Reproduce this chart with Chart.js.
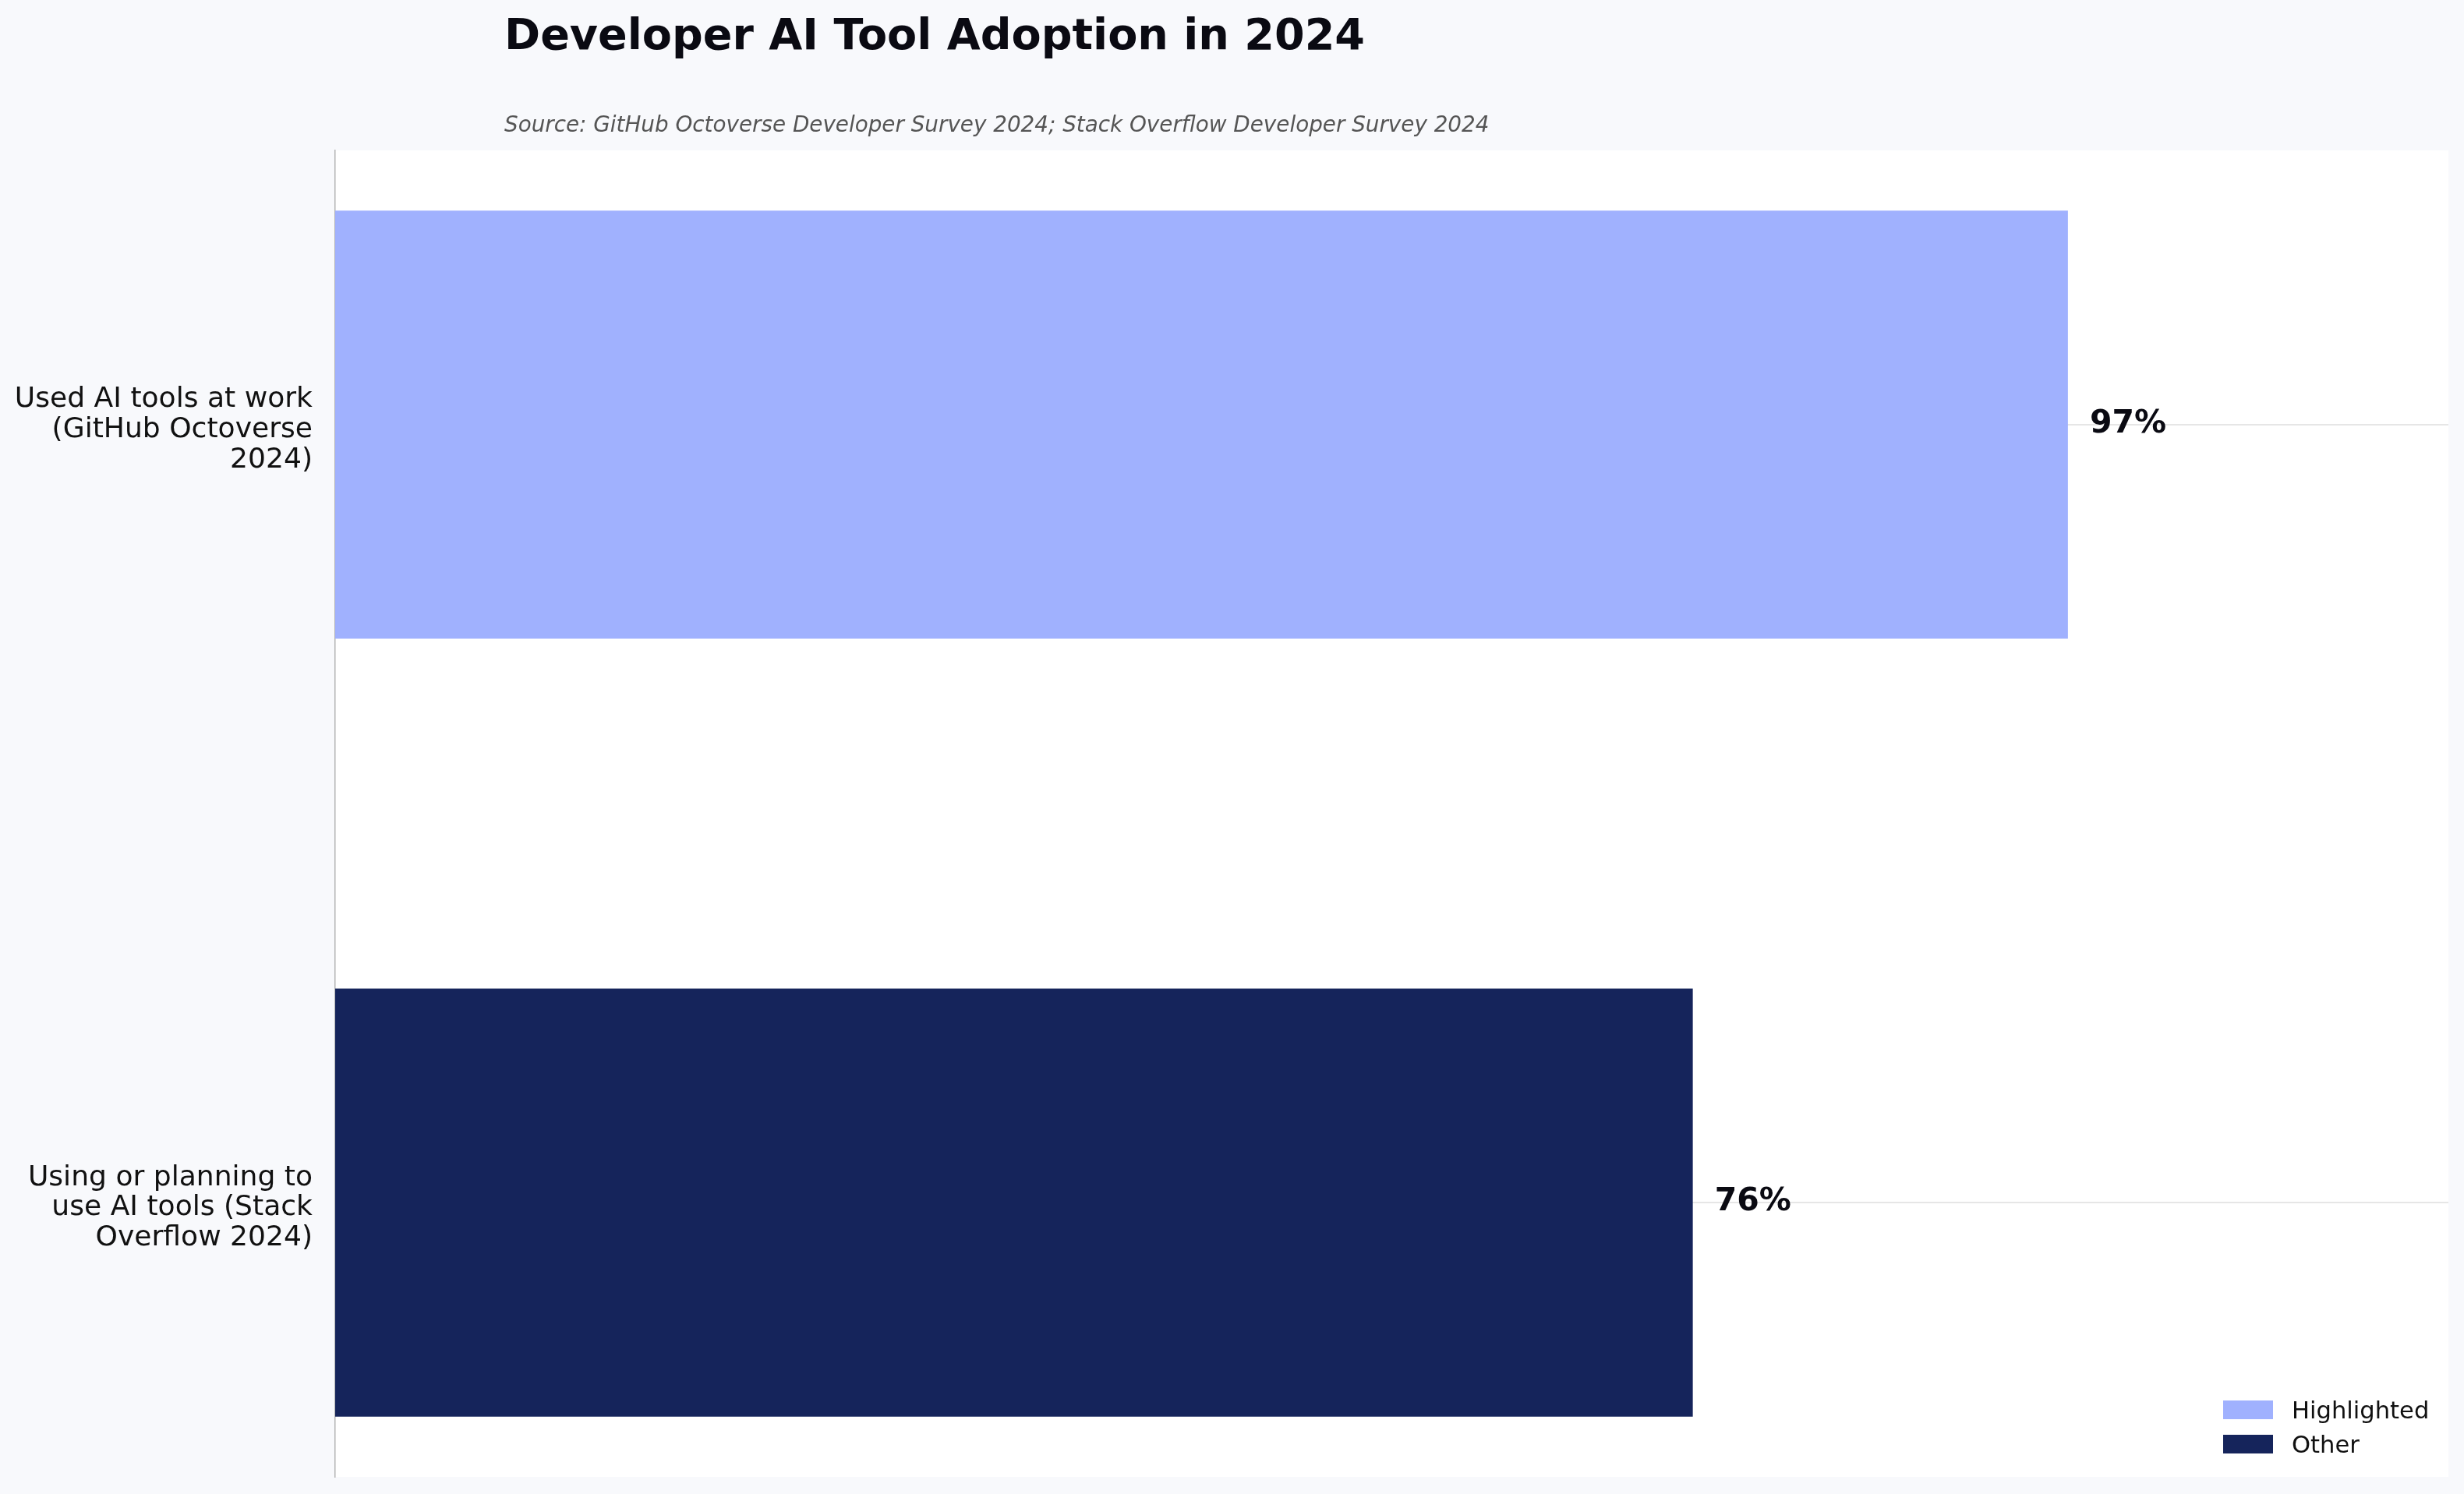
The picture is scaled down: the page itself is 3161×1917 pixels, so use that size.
<!DOCTYPE html>
<html>
<head>
<meta charset="utf-8">
<title>Developer AI Tool Adoption in 2024</title>
<script src="https://cdn.jsdelivr.net/npm/chart.js@4.4.1/dist/chart.umd.min.js"></script>
<style>
  html, body { margin: 0; padding: 0; background: #f8f9fc; }
  body { width: 3161px; height: 1917px; position: relative; overflow: hidden; font-family: "DejaVu Sans", sans-serif; }
  #chart-wrap { position: absolute; left: 0; top: 0; width: 3161px; height: 1917px; }
  h1 { position: absolute; left: 647px; top: 16px; margin: 0; font-size: 55.6px; line-height: 1; font-weight: bold; color: #0a0a12; white-space: nowrap; }
  .source { position: absolute; left: 647px; top: 146px; margin: 0; font-size: 27.8px; line-height: 1; font-style: italic; color: #555; white-space: nowrap; }
  #legend { position: absolute; left: 2852px; top: 1787px; }
  #legend .item { display: flex; align-items: center; height: 44px; font-size: 30.6px; color: #111; white-space: nowrap; }
  #legend .swatch { width: 64px; height: 24px; margin-right: 24px; }
</style>
</head>
<body>
<div id="chart-wrap"><canvas id="adoptionChart"></canvas></div>
<h1>Developer AI Tool Adoption in 2024</h1>
<p class="source">Source: GitHub Octoverse Developer Survey 2024; Stack Overflow Developer Survey 2024</p>
<div id="legend"></div>

<script>
// ––– Dados –––
const categories = [
  ["Used AI tools at work", "(GitHub Octoverse", "2024)"],
  ["Using or planning to", "use AI tools (Stack", "Overflow 2024)"]
];
const values = [97, 76];
const seriesNames = ["Highlighted", "Other"];
const seriesOf = [0, 1]; // série de cada barra

// ––– Estilos –––
const seriesColors = ["#a0b1fe", "#15245b"];

Chart.defaults.font.family = "'DejaVu Sans', sans-serif";
Chart.defaults.color = "#111";

// fundo branco só na área do gráfico
const plotBackground = {
  id: "plotBackground",
  beforeDraw(chart) {
    const { ctx, chartArea } = chart;
    ctx.save();
    ctx.fillStyle = "#ffffff";
    ctx.fillRect(chartArea.left, chartArea.top, chartArea.right - chartArea.left, chartArea.bottom - chartArea.top);
    ctx.restore();
  }
};

// rótulos de valor à direita das barras
const valueLabels = {
  id: "valueLabels",
  afterDatasetsDraw(chart) {
    const ctx = chart.ctx;
    ctx.save();
    ctx.font = "bold 41px 'DejaVu Sans'";
    ctx.fillStyle = "#0a0a12";
    ctx.textAlign = "left";
    ctx.textBaseline = "middle";
    chart.data.datasets.forEach((ds, i) => {
      chart.getDatasetMeta(i).data.forEach((bar, j) => {
        ctx.fillText(ds.data[j].x + "%", bar.x + 28, bar.y - 1);
      });
    });
    ctx.restore();
  }
};

const datasets = seriesNames.map((name, s) => ({
  label: name,
  data: values.map((v, i) => ({ x: v, y: i })).filter((p, i) => seriesOf[i] === s),
  backgroundColor: seriesColors[s],
  borderWidth: 0,
  grouped: false,
  categoryPercentage: 1,
  barPercentage: 0.55
}));

const chart = new Chart(document.getElementById("adoptionChart"), {
  type: "bar",
  data: { datasets: datasets },
  options: {
    indexAxis: "y",
    responsive: true,
    maintainAspectRatio: false,
    animation: false,
    layout: { padding: { top: 193, right: 20, bottom: 22, left: 0 } },
    plugins: {
      legend: { display: false },
      title: { display: false },
      tooltip: { enabled: false }
    },
    scales: {
      x: {
        type: "linear",
        min: 0,
        max: 118.3,
        display: false
      },
      y: {
        type: "linear",
        reverse: true,
        offset: false,
        bounds: "data",
        min: -0.3525,
        max: 1.3525,
        afterBuildTicks: (scale) => {
          scale.ticks = categories.map((c, i) => ({ value: i }));
        },
        afterFit: (scale) => {
          scale.width = 430;
          // os rótulos multilinha não devem empurrar a área do gráfico
          scale.paddingTop = 0;
          scale.paddingBottom = 0;
        },
        ticks: {
          callback: (v) => categories[v],
          font: { size: 36.1, lineHeight: 1.08 },
          color: "#111",
          padding: 29,
          labelOffset: 7,
          autoSkip: false
        },
        grid: { color: "#e6e6e6", lineWidth: 2, drawTicks: false, offset: false },
        border: { display: true, color: "#b3b3b3", width: 1.5 }
      }
    }
  },
  plugins: [plotBackground, valueLabels]
});

// legenda em HTML, dentro da área do gráfico (canto inferior direito)
const legendBox = document.getElementById("legend");
Chart.defaults.plugins.legend.labels.generateLabels(chart).forEach(item => {
  const row = document.createElement("div");
  row.className = "item";
  row.innerHTML = `<span class="swatch" style="background:${item.fillStyle}"></span><span>${item.text}</span>`;
  legendBox.appendChild(row);
});
</script>
</body>
</html>
